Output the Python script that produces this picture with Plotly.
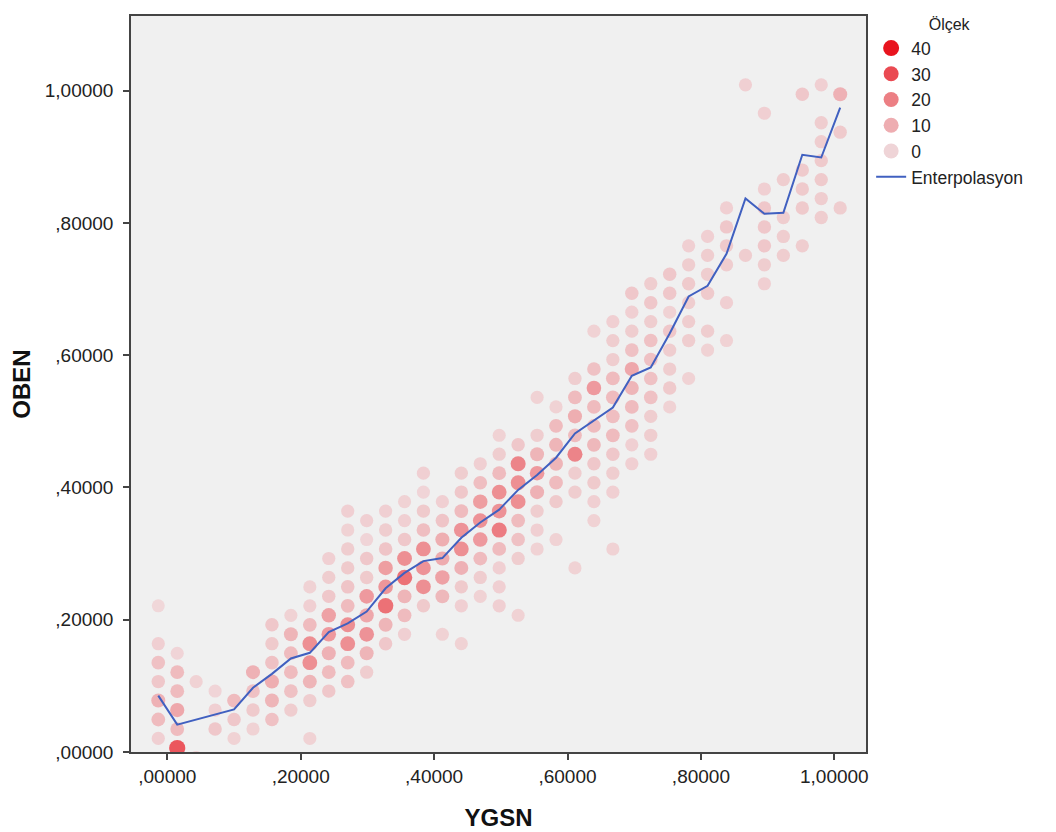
import plotly.graph_objects as go

# --- data --------------------------------------------------------------
# centres of the hexagonal bin columns along YGSN
ygsn_bins = [
    -0.0135, 0.0149, 0.0433, 0.0717, 0.1001, 0.1285, 0.1569, 0.1853, 0.2137,
    0.2421, 0.2705, 0.2989, 0.3273, 0.3557, 0.3840, 0.4124, 0.4408, 0.4692,
    0.4976, 0.5260, 0.5544, 0.5828, 0.6112, 0.6396, 0.6680, 0.6964, 0.7248,
    0.7532, 0.7816, 0.8100, 0.8384, 0.8668, 0.8952, 0.9236, 0.9520, 0.9804,
    1.0088,
]

# OBEN centre of the lowest bin of each column and the bin height
oben_start = [
    0.0205, 0.0061, -0.0082, 0.0348, 0.0205, 0.0348, 0.0492, 0.0634, 0.0205,
    0.0921, 0.1065, 0.1207, 0.1638, 0.1780, 0.2211, 0.1780, 0.1638, 0.2353,
    0.2211, 0.2067, 0.3070, 0.3213, 0.2784, 0.3499, 0.3070, 0.4359, 0.4503,
    0.5218, 0.5649, 0.6078, 0.6222, 0.7510, 0.7081, 0.7510, 0.7654, 0.8083,
    0.8227,
]
oben_step = 0.02865

# counts per bin, bottom to top (None = empty bin)
N = None
bin_counts = [
    [5, 12, 15, 8, 10, 5, N, 2],
    [42, 12, 18, 12, 12, 3],
    [3, N, N, N, 4],
    [8, 5, 3],
    [4, 8, 12],
    [4, 7, 10, 15],
    [10, 14, 16, 10, 7, 8],
    [6, 10, 12, 12, 14, 4],
    [4, N, 6, 14, 25, 25, 12, 5, 4],
    [8, 12, 15, 22, 20, 8, 6, 5],
    [10, 12, 25, 25, 12, 9, 7, 6, 4, 5],
    [6, 14, 24, 18, 22, 7, 8, 3, 5],
    [8, 14, 33, 23, 21, 9, 6, 5],
    [5, 12, 14, 33, 25, 8, 5, 4],
    [7, 25, 24, 25, 11, 7, 3, 5],
    [4, N, 13, 20, 17, 16, 9, 5],
    [4, N, 5, 7, 15, 25, 24, 12, 8, 6],
    [4, 6, 12, 22, 24, 21, 11, 5],
    [5, 5, 5, 12, 30, 24, 25, 12, 6, 4],
    [4, N, N, 6, 10, 12, 25, 25, 28, 8],
    [4, 5, 6, 15, 22, 14, 6, N, 4],
    [4, N, 7, 12, 14, 14, 12, 4],
    [4, N, N, N, 6, 6, 28, 12, 16, 12, 6],
    [4, 5, 7, 8, 13, 12, 12, 22, 10, N, 4],
    [4, N, N, 5, 6, 8, 12, 11, 12, 12, 6, 6, 5],
    [5, 5, 10, 12, 14, 18, 10, 6, 5, 8],
    [5, 6, 6, 10, 10, 10, 10, 6, 8, 6],
    [4, 7, 6, 6, 8, 4, 8, 8],
    [4, N, 6, 6, 6, 7, 6, 5],
    [4, 6, N, 7, 6, 6, 5],
    [4, N, 5, N, 6, 7, 8, 5],
    [6, N, N, N, N, N, N, N, N, 5],
    [5, 6, 8, 8, 8, 5, N, N, N, 5],
    [6, 6, 6, N, 6],
    [6, N, 7, 7, 7, N, N, N, 8],
    [6, 6, 7, 7, 6, 6, N, 5],
    [6, N, N, N, 7, N, 15],
]

# interpolation line (one vertex per column, gaps joined)
interp_oben = [
    0.0853, 0.0414, None, None, 0.0643, 0.0972, 0.1182, 0.1414, 0.1500,
    0.1815, 0.1945, 0.2124, 0.2476, 0.2708, 0.2887, 0.2932, 0.3239, 0.3470,
    0.3665, 0.3964, 0.4188, 0.4450, 0.4817, 0.5011, 0.5210, 0.5689, 0.5815,
    0.6328, 0.6889, 0.7050, 0.7535, 0.8372, 0.8138, 0.8153, 0.9031, 0.8990,
    0.9743,
]

legend_levels = [40, 30, 20, 10, 0]
level_colors = ["#e8141e", "#ea4a52", "#ec7f84", "#eeadb1", "#efd4d7"]

tick_vals = [0.0, 0.2, 0.4, 0.6, 0.8, 1.0]
tick_text = [",00000", ",20000", ",40000", ",60000", ",80000", "1,00000"]

# --- build -------------------------------------------------------------
FONT = "Arial, Liberation Sans, sans-serif"

xs, ys, cs = [], [], []
for x, y0, counts in zip(ygsn_bins, oben_start, bin_counts):
    for k, c in enumerate(counts):
        if c is None:
            continue
        xs.append(x)
        ys.append(y0 + k * oben_step)
        cs.append(c)

# light pink at 0 up to red at 40
scale = sorted([[lv / 40, col] for lv, col in zip(legend_levels, level_colors)])

fig = go.Figure()

fig.add_trace(
    go.Scatter(
        x=xs,
        y=ys,
        mode="markers",
        marker=dict(
            color=cs,
            colorscale=scale,
            cmin=0,
            cmax=40,
            size=[12.8 + 0.08 * c for c in cs],
            line=dict(width=0),
        ),
        showlegend=False,
        hoverinfo="skip",
    )
)

for lv, col in zip(legend_levels, level_colors):
    fig.add_trace(
        go.Scatter(
            x=[None],
            y=[None],
            mode="markers",
            marker=dict(color=col, size=16 if lv == 40 else 15),
            name=str(lv),
        )
    )

fig.add_trace(
    go.Scatter(
        x=ygsn_bins,
        y=interp_oben,
        mode="lines",
        line=dict(color="#4060c0", width=2),
        connectgaps=True,
        name="Enterpolasyon",
    )
)

axis_common = dict(
    tickvals=tick_vals,
    ticktext=tick_text,
    ticks="outside",
    ticklen=6,
    tickwidth=1.5,
    tickcolor="#444",
    tickfont=dict(family=FONT, size=19, color="#222"),
    showline=True,
    linecolor="#444",
    linewidth=1.5,
    mirror=True,
    showgrid=False,
    zeroline=False,
    automargin=False,
)

fig.update_xaxes(
    range=[-0.0544, 1.0475],
    title=dict(text="<b>YGSN</b>", font=dict(family=FONT, size=24, color="#111"), standoff=24),
    ticklabelstandoff=0,
    **axis_common,
)
fig.update_yaxes(
    range=[0.0, 1.113],
    title=dict(text="<b>OBEN</b>", font=dict(family=FONT, size=24, color="#111"), standoff=7),
    ticklabelstandoff=6,
    **axis_common,
)

# the page body adds an 8px offset, so the figure is 8px smaller each way
fig.update_layout(
    width=1048,
    height=824,
    margin=dict(l=123, r=190, t=1, b=80),
    paper_bgcolor="white",
    plot_bgcolor="#f0f0f0",
    font=dict(family=FONT, color="#222"),
    legend=dict(
        x=1.007,
        xanchor="left",
        y=1.009,
        yanchor="top",
        title=dict(text="Ölçek", side="top center", font=dict(family=FONT, size=16)),
        font=dict(family=FONT, size=17.5, color="#222"),
        itemsizing="trace",
        bgcolor="white",
    ),
)

fig.write_html("out.html")
